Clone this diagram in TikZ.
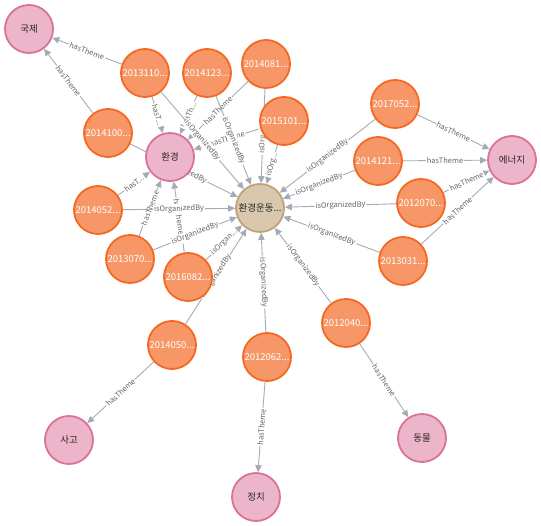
\documentclass[tikz,border=0pt]{standalone}
\usepackage{fontspec}
\setmainfont{Noto Sans CJK KR}
\usepackage{tikz}
\usetikzlibrary{arrows.meta}
\usepackage{xcolor}
\definecolor{evtfill}{HTML}{F79767}
\definecolor{evtline}{HTML}{F36924}
\definecolor{themefill}{HTML}{ECB5C9}
\definecolor{themeline}{HTML}{DA7298}
\definecolor{orgfill}{HTML}{D9C8AE}
\definecolor{orgline}{HTML}{C0A378}
\definecolor{relgray}{HTML}{A5ABB6}
\pgfdeclarelayer{edges}
\pgfsetlayers{edges,main}

\begin{document}
\begin{tikzpicture}[x=1pt, y=1pt,
  every node/.style={font=\fontsize{9.5}{11}\selectfont},
  evt/.style={circle, draw=evtline, fill=evtfill, line width=1.8pt, minimum size=48pt, inner sep=0pt, text=white},
  theme/.style={circle, draw=themeline, fill=themefill, line width=1.8pt, minimum size=48pt, inner sep=0pt, text=black!85},
  org/.style={circle, draw=orgline, fill=orgfill, line width=1.8pt, minimum size=48pt, inner sep=0pt, text=black!85},
  rel/.style={draw=relgray, line width=0.9pt, -{Triangle[length=7pt, width=6.5pt]}},
  rlab/.style={sloped, fill=white, inner sep=1pt, text=black!60, font=\fontsize{7.5}{8}\selectfont}]
  \useasboundingbox (0,0) rectangle (541,-526);
  % themes
  \node[theme] (intl)   at (29,-29)   {국제};
  \node[theme] (env)    at (170,-157) {환경};
  \node[theme] (energy) at (512,-160) {에너지};
  \node[theme] (accid)  at (69,-440)  {사고};
  \node[theme] (polit)  at (256,-497) {정치};
  \node[theme] (animal) at (422,-438) {동물};
  % organizer
  \node[org] (move) at (260,-208) {환경운동...};
  % events
  \node[evt] (e2013110) at (145,-73)  {2013110...};
  \node[evt] (e2014123) at (207,-73)  {2014123...};
  \node[evt] (e2014081) at (266,-64)  {2014081...};
  \node[evt] (e2015101) at (284,-121) {2015101...};
  \node[evt] (e2014100) at (108,-133) {2014100...};
  \node[evt] (e2017052) at (395,-104) {2017052...};
  \node[evt] (e2014121) at (378,-161) {2014121...};
  \node[evt] (e2012070) at (421,-203) {2012070...};
  \node[evt] (e2013031) at (403,-261) {2013031...};
  \node[evt] (e2014052) at (98,-210)  {2014052...};
  \node[evt] (e2013070) at (130,-259) {2013070...};
  \node[evt] (e2016082) at (188,-277) {2016082...};
  \node[evt] (e2014050) at (172,-345) {2014050...};
  \node[evt] (e2012062) at (267,-357) {2012062...};
  \node[evt] (e2012040) at (346,-323) {2012040...};
  \begin{pgfonlayer}{edges}
    % hasTheme
    \draw[rel] (e2013110) -- node[rlab] {hasTheme} (intl);
    \draw[rel] (e2014100) -- node[rlab] {hasTheme} (intl);
    \draw[rel] (e2013110) -- node[rlab] {hasT...} (env);
    \draw[rel] (e2014123) -- node[rlab] {hasTh...} (env);
    \draw[rel] (e2014081) -- node[rlab] {hasTheme} (env);
    \draw[rel] (e2015101) -- node[rlab] {hasTheme} (env);
    \draw[rel] (e2014052) -- node[rlab] {hasT...} (env);
    \draw[rel] (e2013070) -- node[rlab] {hasTheme} (env);
    \draw[rel] (e2016082) -- node[rlab] {hasTheme} (env);
    \draw[rel] (e2017052) -- node[rlab] {hasTheme} (energy);
    \draw[rel] (e2014121) -- node[rlab] {hasTheme} (energy);
    \draw[rel] (e2012070) -- node[rlab] {hasTheme} (energy);
    \draw[rel] (e2013031) -- node[rlab] {hasTheme} (energy);
    \draw[rel] (e2014050) -- node[rlab] {hasTheme} (accid);
    \draw[rel] (e2012062) -- node[rlab] {hasTheme} (polit);
    \draw[rel] (e2012040) -- node[rlab] {hasTheme} (animal);
    % isOrganizedBy
    \draw[rel] (e2013110) -- node[rlab] {isOrganizedBy} (move);
    \draw[rel] (e2014123) -- node[rlab] {isOrganizedBy} (move);
    \draw[rel] (e2014081) -- node[rlab, pos=0.56] {isOrg...} (move);
    \draw[rel] (e2015101) -- node[rlab] {isOrg...} (move);
    \draw[rel] (e2014100) -- node[rlab] {isOrganizedBy} (move);
    \draw[rel] (e2017052) -- node[rlab] {isOrganizedBy} (move);
    \draw[rel] (e2014121) -- node[rlab] {isOrganizedBy} (move);
    \draw[rel] (e2012070) -- node[rlab] {isOrganizedBy} (move);
    \draw[rel] (e2013031) -- node[rlab] {isOrganizedBy} (move);
    \draw[rel] (e2014052) -- node[rlab] {isOrganizedBy} (move);
    \draw[rel] (e2013070) -- node[rlab] {isOrganizedBy} (move);
    \draw[rel] (e2016082) -- node[rlab] {isOrgan...} (move);
    \draw[rel] (e2014050) -- node[rlab] {isOrganizedBy} (move);
    \draw[rel] (e2012062) -- node[rlab] {isOrganizedBy} (move);
    \draw[rel] (e2012040) -- node[rlab] {isOrganizedBy} (move);
  \end{pgfonlayer}
\end{tikzpicture}
\end{document}
